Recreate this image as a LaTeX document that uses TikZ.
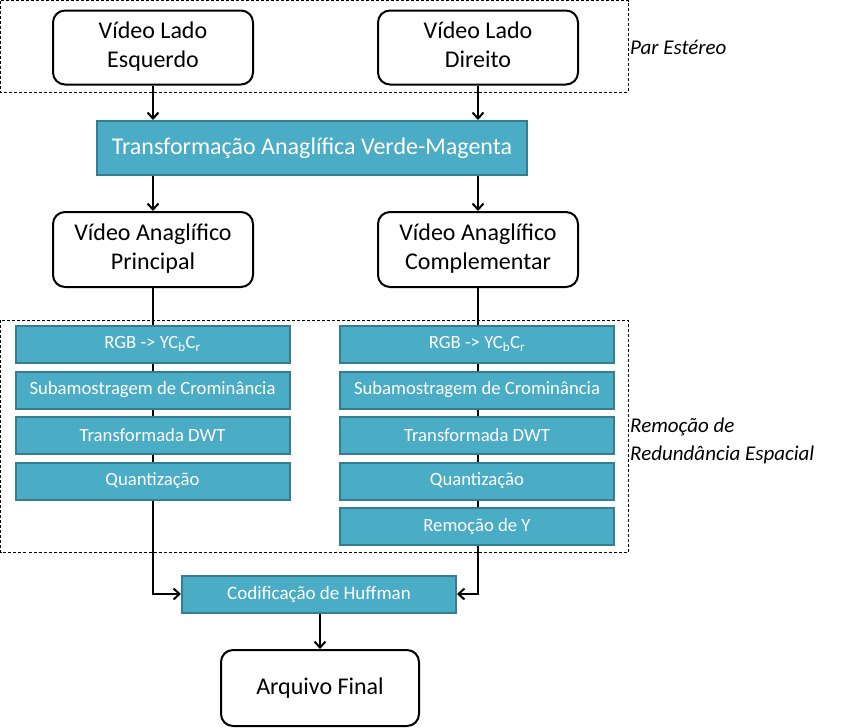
\documentclass[tikz,border=0pt]{standalone}
\usepackage{fontspec}
\setmainfont{Carlito}
\usetikzlibrary{arrows.meta,backgrounds}
\definecolor{tealfill}{HTML}{4BACC6}
\definecolor{tealedge}{HTML}{357D91}
\begin{document}
\begin{tikzpicture}[x=1pt,y=-1pt,
  rbox/.style={draw=black,line width=2pt,rounded corners=12pt,fill=white,
    minimum width=200pt,minimum height=74pt,align=center,inner sep=0pt,
    font=\fontsize{24}{29}\selectfont},
  tbox/.style={draw=tealedge,line width=2pt,fill=tealfill,text=white,
    minimum width=274pt,minimum height=37pt,inner sep=0pt,
    font=\fontsize{18.7}{20}\selectfont},
  grp/.style={draw=black,line width=0.7pt,dash pattern=on 3pt off 2pt},
  conn/.style={line width=2pt,-{Straight Barb[length=6pt,width=11pt,line width=2pt]}},
  plain/.style={line width=2pt},
  lbl/.style={anchor=west,inner sep=0pt,font=\fontsize{21}{28}\selectfont\itshape,align=left}]
\useasboundingbox (0,0) rectangle (847,728);
% groups
\draw[grp] (0.5,0.5) rectangle (628,92);
\draw[grp] (0.5,320) rectangle (628,552);
\node[lbl] (lstereo) at (630,47) {Par Estéreo};
\node[lbl] (lredund) at (630,441) {Remoção de\\Redundância Espacial};
% top boxes
\node[rbox] (tl) at (153,47.5) {Vídeo Lado\strut\\Esquerdo\strut};
\node[rbox] (tr) at (478,47.5) {Vídeo Lado\strut\\Direito\strut};
\node[tbox,minimum width=430pt,minimum height=54pt,font=\fontsize{24}{28}\selectfont] (ana) at (312,148) {Transformação Anaglífica Verde-Magenta};
\node[rbox,minimum height=75pt] (pl) at (153,249.5) {Vídeo Anaglífico\strut\\Principal\strut};
\node[rbox,minimum height=75pt] (pr) at (478,249.5) {Vídeo Anaglífico\strut\\Complementar\strut};
% left stack
\node[tbox] (l1) at (152.5,344) {RGB -> YC\textsubscript{b}C\textsubscript{r}};
\node[tbox] (l2) at (152.5,390) {Subamostragem de Crominância};
\node[tbox] (l3) at (152.5,435.5) {Transformada DWT};
\node[tbox] (l4) at (152.5,481) {Quantização};
% right stack
\node[tbox] (r1) at (477,344) {RGB -> YC\textsubscript{b}C\textsubscript{r}};
\node[tbox] (r2) at (477,390) {Subamostragem de Crominância};
\node[tbox] (r3) at (477,435.5) {Transformada DWT};
\node[tbox] (r4) at (477,481) {Quantização};
\node[tbox] (r5) at (477,526.5) {Remoção de Y};
% bottom
\node[tbox,minimum height=37pt,font=\fontsize{19}{22}\selectfont] (huf) at (319,594) {Codificação de Huffman};
\node[rbox,minimum width=198pt,minimum height=76pt] (fin) at (320,688) {Arquivo Final};
\coordinate (cl) at (pl.south |- huf.west);
\coordinate (cr) at (pr.south |- huf.east);
% connectors
\draw[conn] (tl.south) -- (tl.south |- ana.north);
\draw[conn] (tr.south) -- (tr.south |- ana.north);
\draw[conn] (ana.south -| tl.south) -- (pl.north);
\draw[conn] (ana.south -| tr.south) -- (pr.north);
\draw[conn] (huf.south -| fin.north) -- (fin.north);
\begin{scope}[on background layer]
\draw[plain] (pl.south) -- (cl);
\draw[plain] (pr.south) -- (cr);
\end{scope}
\draw[conn] (l4.south -| cl) -- (cl) -- (huf.west);
\draw[conn] (r5.south -| cr) -- (cr) -- (huf.east);
\end{tikzpicture}
\end{document}
